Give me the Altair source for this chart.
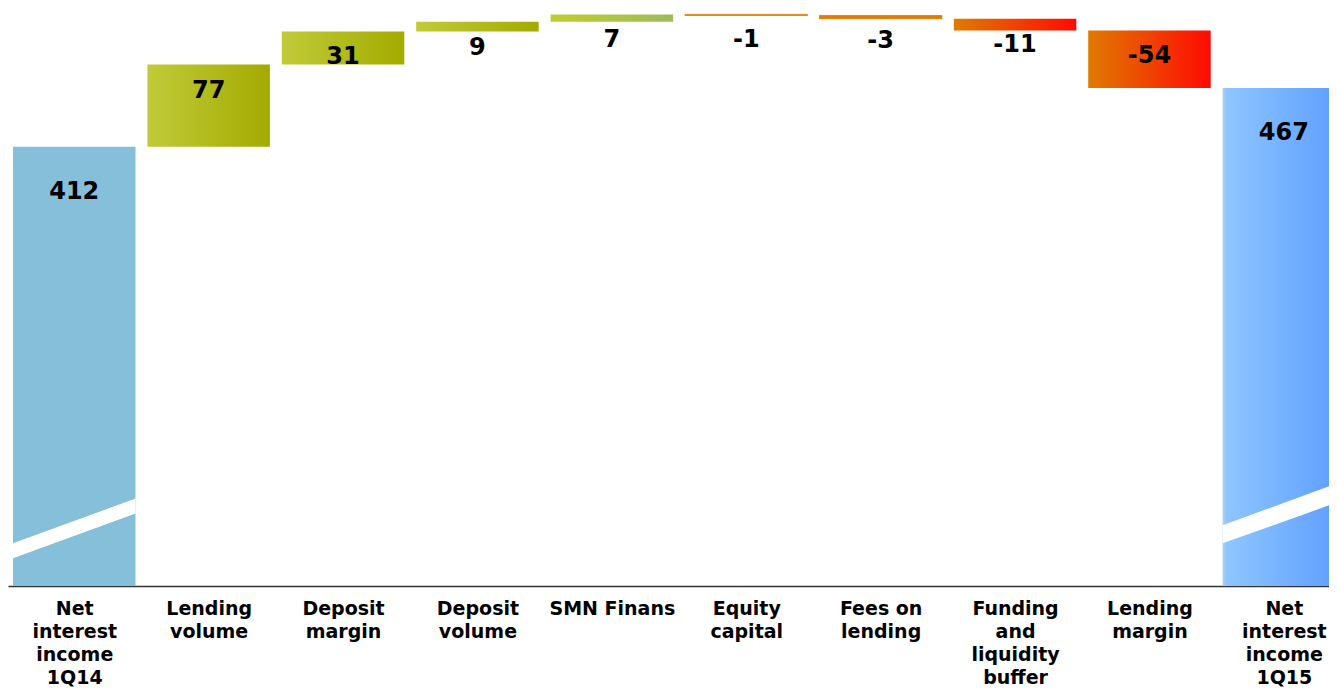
import json
import altair as alt
import pandas as pd

categories = [
    "Net\ninterest\nincome\n1Q14",
    "Lending\nvolume",
    "Deposit\nmargin",
    "Deposit\nvolume",
    "SMN Finans",
    "Equity\ncapital",
    "Fees on\nlending",
    "Funding\nand\nliquidity\nbuffer",
    "Lending\nmargin",
    "Net\ninterest\nincome\n1Q15",
]
values = [412, 77, 31, 9, 7, -1, -3, -11, -54, 467]
kinds = ["total", "step", "step", "step", "step", "step", "step", "step", "step", "total"]

# axis-break stripes (data units) on the two total bars: left/right edge, lower/upper
break_bars = [0, 9]
break_left_lo = [26, 40]
break_left_hi = [40, 57]
break_right_lo = [68, 81]
break_right_hi = [82, 99]

# ---- layout constants (in units of one category step) ----
p_outer = 0.0372
bw = 0.9114
W = 1321
H = 578
step_px = 134.4
x_max = W / step_px

# ---- build waterfall table ----
rows = []
running = 0
for i, (c, v, k) in enumerate(zip(categories, values, kinds)):
    if k == "total":
        lo, hi = 0, v
        running = v
    else:
        a, b = running, running + v
        lo, hi = min(a, b), max(a, b)
        running = b
    rows.append({"idx": i, "lo": lo, "hi": hi, "label": str(v), "kind": k})
df = pd.DataFrame(rows)


def grad(stops):
    return alt.LinearGradient(
        gradient="linear",
        stops=[alt.GradientStop(color=c, offset=o) for c, o in stops],
        x1=0, x2=1, y1=0, y2=0,
    )


green = grad([("#c0cb38", 0), ("#a3ab00", 1)])
red = grad([("#e07b00", 0), ("#ff0a00", 1)])
fills = [
    "#86bfda",
    green,
    green,
    green,
    grad([("#c2cc30", 0), ("#9dbb5c", 1)]),
    "#e07b00",
    "#e07b00",
    red,
    red,
    grad([("#b4d2f0", 0), ("#8ec6ff", 0.03), ("#5b9cff", 1)]),
]
strokes = [None, None, None, None, None, "#e07b00", "#e07b00", None, None, None]

xscale = alt.Scale(domain=[0, x_max], nice=False, zero=False)
yscale = alt.Scale(domain=[0, 542], nice=False, zero=False)

centers = [i + p_outer + bw / 2 for i in range(len(categories))]
label_expr = "split(%s[round(datum.value - %.4f)], '\\n')" % (json.dumps(categories), p_outer + bw / 2)

axis = alt.Axis(
    title=None,
    values=centers,
    labelAngle=0,
    ticks=False,
    grid=False,
    domainColor="#333333",
    domainWidth=1.5,
    labelFont="DejaVu Sans",
    labelFontWeight="bold",
    labelFontSize=19,
    labelColor="black",
    labelLineHeight=23,
    labelPadding=13,
    labelOverlap=False,
    labelBound=False,
    labelFlush=False,
    labelLimit=300,
    labelExpr=label_expr,
)

base = alt.Chart(df).transform_calculate(
    x0=f"datum.idx + {p_outer}",
    x1=f"datum.idx + {p_outer + bw}",
    xm=f"datum.idx + {p_outer + bw / 2}",
)

layers = []
for i in range(len(categories)):
    mk = dict(color=fills[i], clip=True)
    if strokes[i]:
        mk.update(stroke=strokes[i], strokeWidth=0.8)
    layers.append(
        base.transform_filter(alt.datum.idx == i)
        .mark_bar(**mk)
        .encode(
            x=alt.X("x0:Q", scale=xscale, axis=axis),
            x2="x1:Q",
            y=alt.Y("lo:Q", scale=yscale, axis=None),
            y2="hi:Q",
        )
    )

srows = []
for j, b in enumerate(break_bars):
    srows.append({"g": j, "sx": b + p_outer, "ylo": break_left_lo[j], "yhi": break_left_hi[j]})
    srows.append({"g": j, "sx": b + p_outer + bw, "ylo": break_right_lo[j], "yhi": break_right_hi[j]})
sdf = pd.DataFrame(srows)

layers.append(
    alt.Chart(sdf).mark_area(color="white", clip=True).encode(
        x=alt.X("sx:Q", scale=xscale, axis=axis),
        y=alt.Y("ylo:Q", scale=yscale, axis=None),
        y2="yhi:Q",
        detail="g:N",
    )
)

for k, dy in [("step", 26), ("total", 45)]:
    layers.append(
        base.transform_filter(alt.datum.kind == k)
        .mark_text(font="DejaVu Sans", fontWeight="bold", fontSize=24, color="black",
                   baseline="middle", dy=dy)
        .encode(
            x=alt.X("xm:Q", scale=xscale, axis=axis),
            y=alt.Y("hi:Q", scale=yscale, axis=None),
            text="label:N",
        )
    )

chart = (
    alt.layer(*layers)
    .properties(
        width=W,
        height=H,
        autosize=alt.AutoSizeParams(type="none"),
        padding={"left": 0, "top": 0, "right": 0, "bottom": 102},
        background="white",
    )
    .configure_view(strokeWidth=0)
)

chart.save("out.html", embed_options={"renderer": "svg", "actions": False})
